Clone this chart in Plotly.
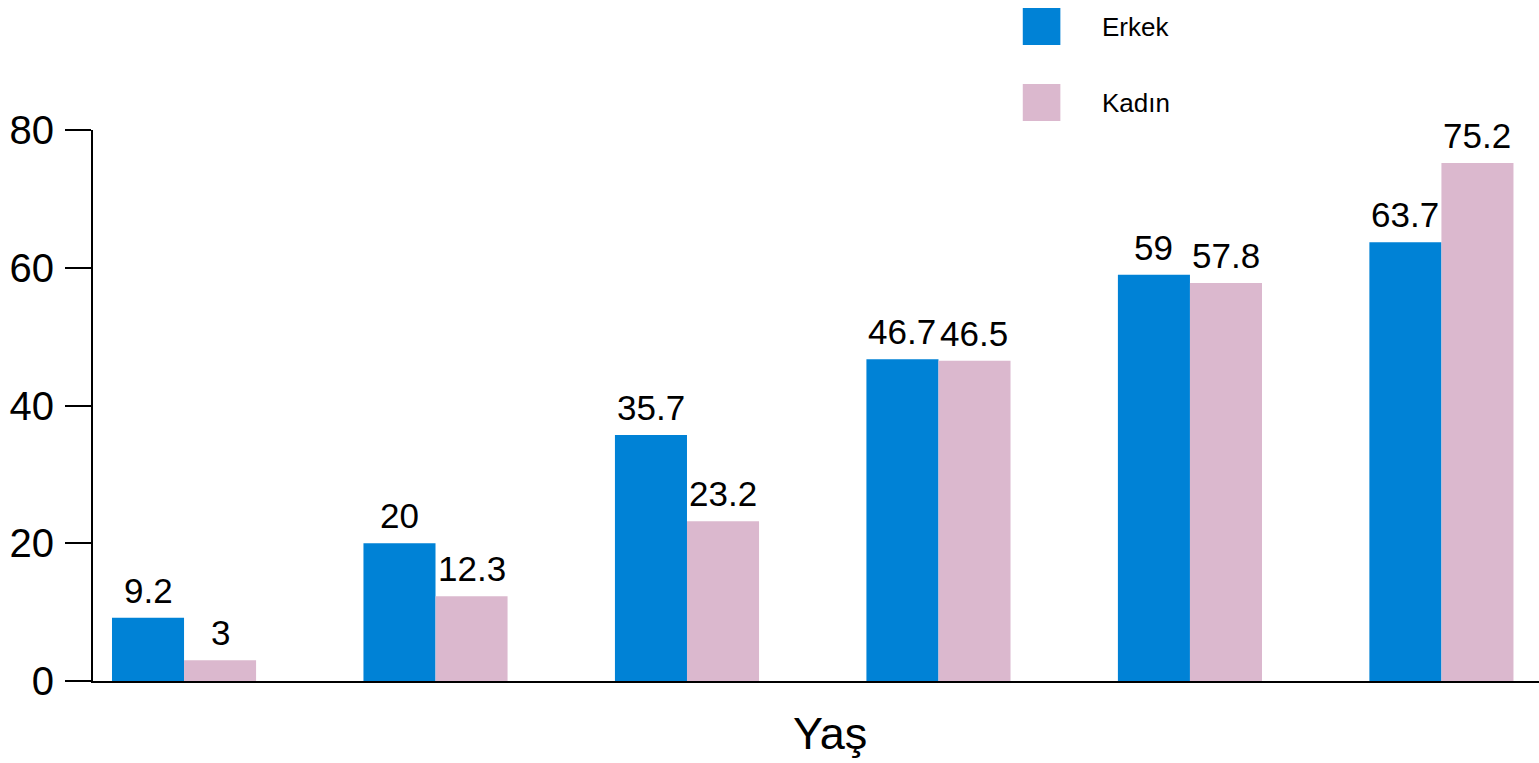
import plotly.graph_objects as go

# Age groups (positions only; the axis carries no tick labels)
group_index = [0, 1, 2, 3, 4, 5]
series_names = ["Erkek", "Kadın"]
erkek = [9.2, 20, 35.7, 46.7, 59, 63.7]
kadin = [3, 12.3, 23.2, 46.5, 57.8, 75.2]
y_ticks = [0, 20, 40, 60, 80]

colors = {"Erkek": "#0082D6", "Kadın": "#DBB8CE"}
BARGAP = 0.427
font_family = "Liberation Sans, Arial, sans-serif"

fig = go.Figure()
for name, vals in zip(series_names, [erkek, kadin]):
    fig.add_trace(go.Bar(
        x=group_index, y=vals, name=name,
        marker=dict(color=colors[name], line=dict(width=0)),
        showlegend=False,
    ))

# Value labels above each bar
bar_w = (1 - BARGAP) / 2
for k, vals in enumerate([erkek, kadin]):
    offset = (k - 0.5) * bar_w
    for i, v in zip(group_index, vals):
        fig.add_annotation(
            x=i + offset, y=v, xref="x", yref="y",
            text=f"{v:g}", showarrow=False, yanchor="bottom", yshift=6,
            font=dict(family=font_family, size=35, color="black"),
        )

# Legend drawn as large swatches with labels
for k, name in enumerate(series_names):
    top = 1.2214 - k * 0.138
    fig.add_shape(type="rect", xref="paper", yref="paper",
                  x0=0.643, x1=0.669, y0=top - 0.0672, y1=top,
                  fillcolor=colors[name], line=dict(width=0))
    fig.add_annotation(xref="paper", yref="paper", x=0.6965, y=top - 0.0336,
                       xanchor="left", yanchor="middle", showarrow=False,
                       text=name, font=dict(family=font_family, size=26, color="black"))

# Axis title
fig.add_annotation(xref="paper", yref="paper", x=0.51, y=-0.096,
                   xanchor="center", yanchor="middle", showarrow=False,
                   text="Yaş", font=dict(family=font_family, size=45, color="black"))

fig.update_layout(
    width=1539, height=763,
    margin=dict(l=93, r=0, t=130, b=82),
    paper_bgcolor="white", plot_bgcolor="white",
    barmode="group", bargap=BARGAP, bargroupgap=0,
    showlegend=False,
)
fig.update_xaxes(
    range=[-0.362, 5.388], showgrid=False, zeroline=False,
    showline=True, linecolor="black", linewidth=2,
    showticklabels=False, ticks="",
)
fig.update_yaxes(
    range=[0, 80], tickvals=y_ticks, showgrid=False, zeroline=False,
    showline=True, linecolor="black", linewidth=2,
    ticks="outside", ticklen=26, tickwidth=2, tickcolor="black",
    ticklabelstandoff=3,
    tickfont=dict(family=font_family, size=40, color="black"),
)

fig.write_html("out.html")
